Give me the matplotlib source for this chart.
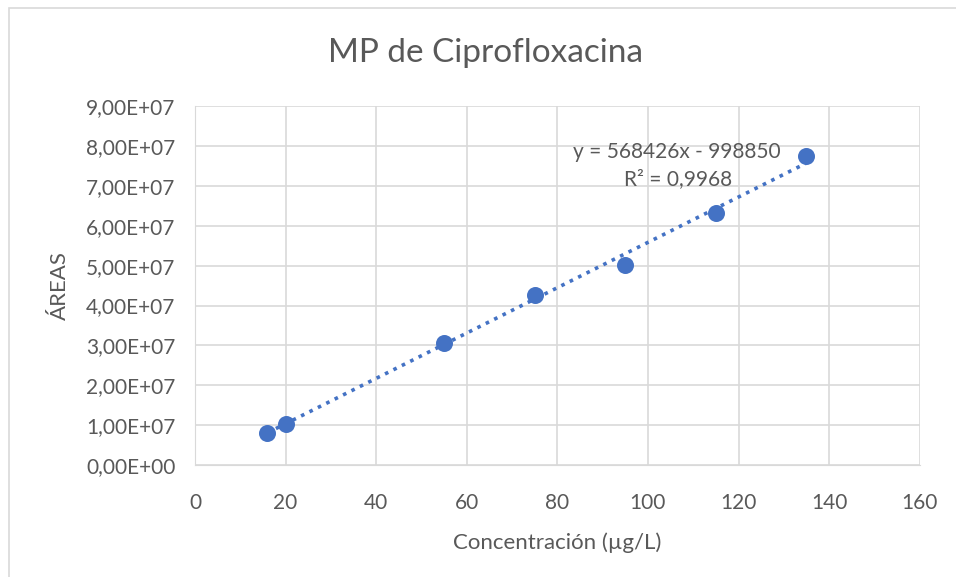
import numpy as np
import matplotlib.pyplot as plt
from matplotlib.patches import Rectangle
from matplotlib.ticker import FuncFormatter

# curva de calibración
concentracion = [16, 20, 55, 75, 95, 115, 135]
areas = [8.0e6, 1.03e7, 3.06e7, 4.26e7, 5.01e7, 6.32e7, 7.74e7]
pendiente = 568426
intercepto = -998850
r2 = 0.9968

plt.rcParams['font.family'] = ['Lato', 'DejaVu Sans']
gris = '#595959'
azul = '#4472c4'

fig = plt.figure(figsize=(9.56, 5.77), dpi=100)
fig.patches.append(Rectangle((0.009, -0.01), 1.2, 0.997, transform=fig.transFigure,
                             fill=False, edgecolor='#d9d9d9', linewidth=1.2))
ax = fig.add_axes([0.204, 0.194, 0.758, 0.622])

ax.scatter(concentracion, areas, s=150, color=azul, zorder=3, linewidths=0)
xs = np.array([min(concentracion), max(concentracion)])
ax.plot(xs, pendiente * xs + intercepto, color=azul, linestyle=(0, (1, 1.6)),
        linewidth=2.6, zorder=2)

ax.set_xlim(0, 160)
ax.set_ylim(0, 9e7)
ax.set_xticks(range(0, 161, 20))
ax.set_yticks(np.arange(0, 9.1e7, 1e7))


def fmt_sci(v, pos):
    m, e = f'{v:.2E}'.split('E')
    return f'{m.replace(".", ",")}E{e[0]}{int(e[1:]):02d}'


ax.yaxis.set_major_formatter(FuncFormatter(fmt_sci))
ax.grid(True, color='#d9d9d9', linewidth=1.2)
ax.set_axisbelow(True)
for s in ax.spines.values():
    s.set_visible(False)
ax.spines['bottom'].set_visible(True)
ax.spines['bottom'].set_color('#d9d9d9')
ax.spines['left'].set_visible(True)
ax.spines['left'].set_color('#d9d9d9')
ax.tick_params(length=0, labelsize=15, colors=gris)
ax.tick_params(axis='x', pad=20)
ax.tick_params(axis='y', pad=14)

ax.set_xlabel('Concentración (µg/L)', fontsize=16, color=gris, labelpad=14)
ax.set_ylabel('ÁREAS', fontsize=16, color=gris, labelpad=12)
fig.text(0.508, 0.908, 'MP de Ciprofloxacina', ha='center', va='center',
         fontsize=24, color=gris)

# ecuación de la recta de ajuste
ax.text(106.4, 7.84e7, f'y = {pendiente}x - {abs(intercepto)}', ha='center',
        va='center', fontsize=15, color=gris)
ax.text(106.6, 7.17e7, f'R² = {str(r2).replace(".", ",")}', ha='center',
        va='center', fontsize=15, color=gris)

fig.savefig('out.png', dpi=100)
